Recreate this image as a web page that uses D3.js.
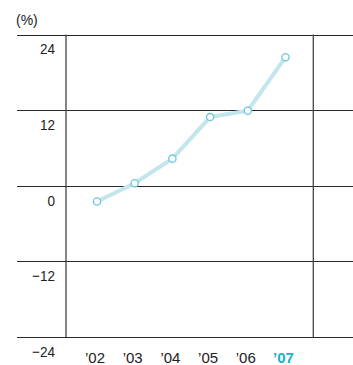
<!DOCTYPE html>
<html>
<head>
<meta charset="utf-8">
<script src="https://cdn.jsdelivr.net/npm/d3@7"></script>
<style>
  html, body { margin: 0; padding: 0; background: #fff; }
  svg { display: block; }
  text { font-family: "Liberation Sans", Arial, sans-serif; }
</style>
</head>
<body>
<svg id="chart" width="353" height="365"></svg>
<script>
// Annual growth rate (%)
const years = ["\u201902", "\u201903", "\u201904", "\u201905", "\u201906", "\u201907"];
const values = [-2.5, 0.4, 4.3, 10.9, 11.9, 20.4];
const yTicks = [24, 12, 0, -12, -24];
const unitLabel = "(%)";
const highlightYear = "\u201907";

const svg = d3.select("#chart");

const y = d3.scaleLinear().domain([-24, 24]).range([337, 34.5]);
const x = d3.scalePoint().domain(years).range([97, 285.5]);

const gridLeft = 17, gridRight = 353;
const frameLeft = 66, frameRight = 313.3;

// horizontal grid lines
svg.append("g").selectAll("line").data(yTicks).join("line")
  .attr("x1", gridLeft).attr("x2", gridRight)
  .attr("y1", d => Math.round(y(d)) + 0.5).attr("y2", d => Math.round(y(d)) + 0.5)
  .attr("stroke", "#2a2a2a").attr("stroke-width", 1);

// vertical frame lines
svg.append("g").selectAll("line").data([frameLeft, frameRight]).join("line")
  .attr("x1", d => d).attr("x2", d => d)
  .attr("y1", y(24)).attr("y2", y(-24))
  .attr("stroke", "#444").attr("stroke-width", 1.3);

// y tick labels, sitting below their grid lines
svg.append("g").selectAll("text").data(yTicks).join("text")
  .attr("x", 55).attr("y", d => y(d) + 20)
  .attr("text-anchor", "end")
  .attr("font-size", 15)
  .attr("transform", d => `translate(55,0) scale(0.9,1) translate(-55,0)`)
  .attr("fill", "#222")
  .text(d => d < 0 ? "\u2212" + Math.abs(d) : d);

svg.append("text")
  .attr("x", 16).attr("y", 25)
  .attr("font-size", 14)
  .attr("fill", "#222")
  .text(unitLabel);

// x labels
svg.append("g").selectAll("text").data(years).join("text")
  .attr("x", d => x(d) - 2).attr("y", 363)
  .attr("text-anchor", "middle")
  .attr("font-size", 15)
  .attr("font-weight", d => d === highlightYear ? "bold" : "normal")
  .attr("fill", d => d === highlightYear ? "#19b2c9" : "#222")
  .text(d => d);

// series line
const line = d3.line().x((d, i) => x(years[i])).y(d => y(d));
svg.append("path").datum(values)
  .attr("d", line)
  .attr("fill", "none")
  .attr("stroke", "#c2e6ec")
  .attr("stroke-width", 4)
  .attr("stroke-linejoin", "round");

// markers
svg.append("g").selectAll("circle").data(values).join("circle")
  .attr("cx", (d, i) => x(years[i])).attr("cy", d => y(d))
  .attr("r", 3.6)
  .attr("fill", "#fff")
  .attr("stroke", "#6fc9d8")
  .attr("stroke-width", 1.4);
</script>
</body>
</html>
